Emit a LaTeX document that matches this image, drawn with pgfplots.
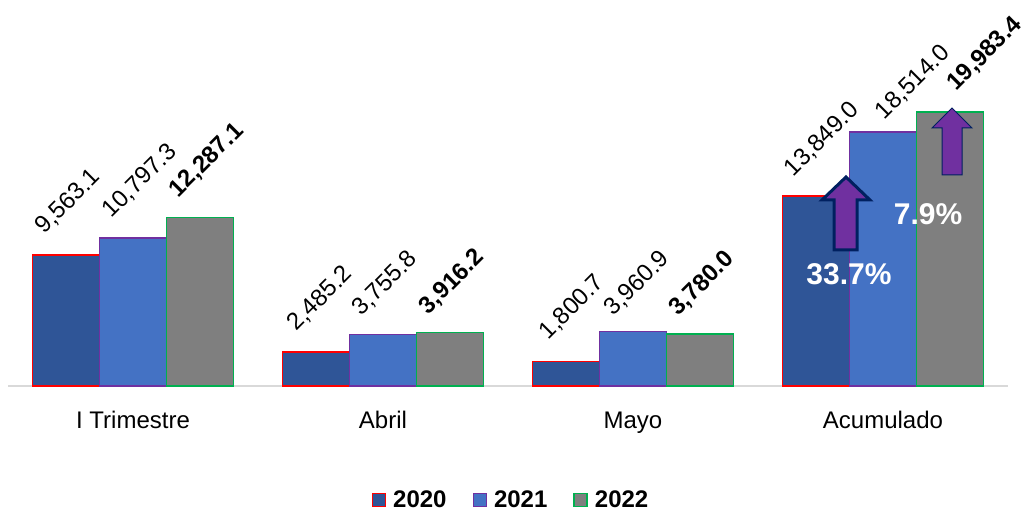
\documentclass[border=0pt]{standalone}
\usepackage{fontspec}
\setmainfont{Liberation Sans}
\usepackage{pgfplots}
\usepackage{pgfplotstable}
\pgfplotsset{compat=1.18}
\definecolor{c20}{HTML}{2F5597}
\definecolor{c21}{HTML}{4472C4}
\definecolor{c22}{HTML}{7F7F7F}
\definecolor{b20}{HTML}{FF0000}
\definecolor{b21}{HTML}{7030A0}
\definecolor{b22}{HTML}{00B050}
\definecolor{arrfill}{HTML}{7030A0}
\definecolor{arrline}{HTML}{002060}
\pgfplotstableread{
x y lab dx dy
0 9563.1 9,563.1 -29 22
1 2485.2 2,485.2 -27 22
2 1800.7 1,800.7 -25 23
3 13849.0 13,849.0 -30 21
}\tA
\pgfplotstableread{
x y lab dx dy
0 10797.3 10,797.3 -29 21
1 3755.8 3,755.8 -29 19.5
2 3960.9 3,960.9 -27 17
3 18514.0 18,514.0 -6 14
}\tB
\pgfplotstableread{
x y lab dx dy
0 12287.1 12,287.1 -29 21
1 3916.2 3,916.2 -29 19
2 3780.0 3,780.0 -29 19
3 19983.4 19,983.4 -1 22
}\tC
\begin{document}
\begin{tikzpicture}
\useasboundingbox (-8bp,-127bp) rectangle (1013bp,386bp);
\begin{axis}[
  scale only axis, width=1000bp, height=386bp,
  xmin=-0.5, xmax=3.5, ymin=0, ymax=28150,
  axis y line=none,
  axis x line*=bottom,
  x axis line style={draw=black!15, line width=1.2bp, -},
  xtick={0,1,2,3},
  xticklabels={I Trimestre, Abril, Mayo, Acumulado},
  major tick length=0pt,
  xticklabel style={font=\fontsize{24bp}{28bp}\selectfont, yshift=-22bp},
  ybar=0pt, bar width=0.268,
  nodes near coords,
  point meta=explicit symbolic,
  visualization depends on={\thisrow{dx} \as \ldx},
  visualization depends on={\thisrow{dy} \as \ldy},
  nodes near coords style={font=\fontsize{24bp}{28bp}\selectfont, xshift=\ldx bp, yshift=\ldy bp, rotate=45, anchor=west},
  legend columns=3,
  legend style={draw=none, fill=none, at={(0.503,-0.295)}, anchor=center,
    font=\bfseries\fontsize{24bp}{28bp}\selectfont,
    /tikz/every even column/.append style={column sep=24bp}},
  legend image code/.code={\draw[#1, line width=1.5bp] (0bp,-6.5bp) rectangle (13bp,6.5bp); \path (18bp,0bp);},
  clip=false,
]
\addplot[fill=c20, draw=b20, line width=1.5bp] table[x=x, y=y, meta=lab] {\tA};
\addplot[fill=c21, draw=b21, line width=1.5bp] table[x=x, y=y, meta=lab] {\tB};
\addplot[fill=c22, draw=b22, line width=1.5bp, nodes near coords style={font=\bfseries\fontsize{24bp}{28bp}\selectfont}] table[x=x, y=y, meta=lab] {\tC};
\legend{2020, 2021, 2022}
\end{axis}
\filldraw[fill=arrfill, draw=arrline, line width=3bp, line join=miter]
  (826bp,136bp) -- (849bp,136bp) -- (849bp,186bp) -- (862bp,186bp) -- (838bp,209bp) -- (814bp,186bp) -- (826bp,186bp) -- cycle;
\filldraw[fill=arrfill, draw=arrline, line width=1bp, line join=miter]
  (934bp,211bp) -- (954bp,211bp) -- (954bp,258bp) -- (964bp,258bp) -- (944bp,278bp) -- (924bp,258bp) -- (934bp,258bp) -- cycle;
\node[text=white, font=\bfseries\fontsize{30bp}{32bp}\selectfont] at (841bp,112bp) {33.7\%};
\node[text=white, font=\bfseries\fontsize{30bp}{32bp}\selectfont] at (920bp,172bp) {7.9\%};
\end{tikzpicture}
\end{document}
